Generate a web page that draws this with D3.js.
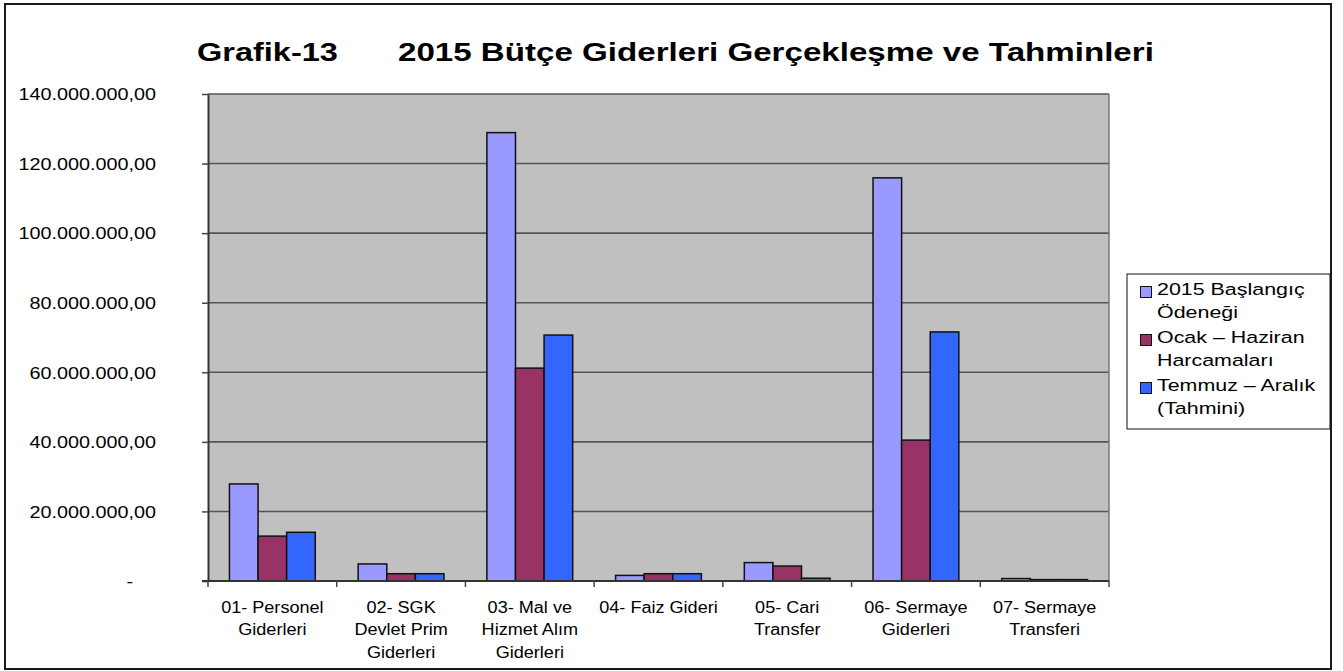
<!DOCTYPE html>
<html>
<head>
<meta charset="utf-8">
<script src="https://cdn.jsdelivr.net/npm/d3@7"></script>
<style>
  body { margin: 0; background: #fff; }
  text { font-family: Arial, "Liberation Sans", sans-serif; fill: #000; }
</style>
</head>
<body>
<div id="chart"></div>
<script>
// categories (line breaks as in the original labels)
var categories = [
  "01- Personel\nGiderleri",
  "02- SGK\nDevlet Prim\nGiderleri",
  "03- Mal ve\nHizmet Alım\nGiderleri",
  "04- Faiz Gideri",
  "05- Cari\nTransfer",
  "06- Sermaye\nGiderleri",
  "07- Sermaye\nTransferi"
];

var seriesNames = [
  "2015 Başlangıç\nÖdeneği",
  "Ocak – Haziran\nHarcamaları",
  "Temmuz – Aralık\n(Tahmini)"
];

// values in TL
var baslangic = [27900000, 4900000, 128900000, 1600000, 5300000, 115900000, 700000];
var ocakHaziran = [12900000, 2100000, 61200000, 2100000, 4300000, 40500000, 400000];
var temmuzAralik = [14000000, 2100000, 70700000, 2100000, 800000, 71600000, 400000];

var yTicks = [0, 20000000, 40000000, 60000000, 80000000, 100000000, 120000000, 140000000];

var titleLeft = "Grafik-13";
var titleMain = "2015 Bütçe Giderleri Gerçekleşme ve Tahminleri";

var colors = ["#9999FF", "#993366", "#3366FF"];

// set the dimensions of the page and the plot area
var W = 1343, H = 671;
var plot = {left: 208, top: 94, right: 1109, bottom: 581};
var sx = 1.2; // text in the original is horizontally stretched

var allSeries = [baslangic, ocakHaziran, temmuzAralik];
var data = categories.map(function(c, i) {
  return {cat: c, values: allSeries.map(function(s, j) { return {series: j, value: s[i]}; })};
});

var trLocale = d3.formatLocale({decimal: ",", thousands: ".", grouping: [3], currency: ["", ""]});
var fmt = trLocale.format(",.2f");

var svg = d3.select("#chart").append("svg")
    .attr("width", W)
    .attr("height", H);

svg.append("rect")
    .attr("width", W).attr("height", H)
    .attr("fill", "#fff");

// outer frame
svg.append("rect")
    .attr("x", 5).attr("y", 4)
    .attr("width", 1326).attr("height", 665)
    .attr("fill", "none")
    .attr("stroke", "#1a1a1a")
    .attr("stroke-width", 2);

// scales
var x0 = d3.scaleBand()
    .domain(categories)
    .range([plot.left, plot.right])
    .paddingInner(0).paddingOuter(0);

var x1 = d3.scaleBand()
    .domain([0, 1, 2])
    .range([0, x0.bandwidth()])
    .paddingInner(0)
    .paddingOuter(0.75);

var y = d3.scaleLinear()
    .domain([0, 140000000])
    .range([plot.bottom, plot.top]);

// plot background
svg.append("rect")
    .attr("x", plot.left).attr("y", plot.top)
    .attr("width", plot.right - plot.left)
    .attr("height", plot.bottom - plot.top)
    .attr("fill", "#C0C0C0");

// gridlines
svg.append("g")
  .selectAll("line")
  .data(yTicks.slice(1))
  .enter().append("line")
    .attr("x1", plot.left).attr("x2", plot.right)
    .attr("y1", function(d) { return y(d); })
    .attr("y2", function(d) { return y(d); })
    .attr("stroke", "#555")
    .attr("stroke-width", 1.6);

// right border of plot
svg.append("line")
    .attr("x1", plot.right).attr("x2", plot.right)
    .attr("y1", plot.top).attr("y2", plot.bottom)
    .attr("stroke", "#777")
    .attr("stroke-width", 1.5);

// bars
var groups = svg.append("g")
  .selectAll("g")
  .data(data)
  .enter().append("g")
    .attr("transform", function(d) { return "translate(" + x0(d.cat) + ",0)"; });

groups.selectAll("rect")
  .data(function(d) { return d.values; })
  .enter().append("rect")
    .attr("x", function(d) { return x1(d.series); })
    .attr("y", function(d) { return y(d.value); })
    .attr("width", x1.bandwidth())
    .attr("height", function(d) { return y(0) - y(d.value); })
    .attr("fill", function(d) { return colors[d.series]; })
    .attr("stroke", "#111")
    .attr("stroke-width", 1.5);

// Y axis
var yAxis = svg.append("g")
    .attr("transform", "translate(" + plot.left + ",0)")
    .call(d3.axisLeft(y).tickValues(yTicks).tickSize(6).tickSizeOuter(0)
      .tickFormat(function(d) { return d === 0 ? "-" : fmt(d); }));

yAxis.select(".domain").attr("stroke", "#333").attr("stroke-width", 2);
yAxis.selectAll(".tick line").attr("stroke", "#444").attr("stroke-width", 1.5);
yAxis.selectAll(".tick text")
    .attr("font-size", 16.5)
    .attr("font-family", "Arial, 'Liberation Sans', sans-serif")
    .attr("fill", "#000")
    .attr("x", function(d) { return (d === 0 ? -75 : -52) / sx; })
    .attr("dy", "0.35em")
    .attr("transform", "scale(" + sx + ",1)");

// X axis line and ticks at category boundaries
svg.append("line")
    .attr("x1", plot.left - 6).attr("x2", plot.right)
    .attr("y1", plot.bottom).attr("y2", plot.bottom)
    .attr("stroke", "#333")
    .attr("stroke-width", 2);

var bounds = categories.map(function(c) { return x0(c); }).concat([plot.right]);
svg.append("g")
  .selectAll("line")
  .data(bounds)
  .enter().append("line")
    .attr("x1", function(d) { return d; })
    .attr("x2", function(d) { return d; })
    .attr("y1", plot.bottom).attr("y2", plot.bottom + 6)
    .attr("stroke", "#444")
    .attr("stroke-width", 1.5);

// category labels
var catLabels = svg.append("g")
  .selectAll("text")
  .data(categories)
  .enter().append("text")
    .attr("transform", function(d) {
      return "translate(" + (x0(d) + x0.bandwidth() / 2) + "," + 613 + ") scale(1.13,1)";
    })
    .attr("text-anchor", "middle")
    .attr("font-size", 16);

catLabels.selectAll("tspan")
  .data(function(d) { return d.split("\n"); })
  .enter().append("tspan")
    .attr("x", 0)
    .attr("y", function(d, i) { return i * 22.5; })
    .text(function(d) { return d; });

// title
svg.append("text")
    .attr("transform", "translate(197,61) scale(1.25,1)")
    .attr("font-size", 26)
    .attr("font-weight", "bold")
    .text(titleLeft);

svg.append("text")
    .attr("transform", "translate(398,61) scale(1.25,1)")
    .attr("font-size", 26.5)
    .attr("font-weight", "bold")
    .text(titleMain);

// legend
var legend = svg.append("g");
legend.append("rect")
    .attr("x", 1127).attr("y", 274)
    .attr("width", 203).attr("height", 155)
    .attr("fill", "#fff")
    .attr("stroke", "#111")
    .attr("stroke-width", 1);

var items = legend.selectAll("g.item")
  .data(seriesNames)
  .enter().append("g")
    .attr("class", "item")
    .attr("transform", function(d, i) { return "translate(1140," + (295 + i * 48) + ")"; });

items.append("rect")
    .attr("x", 0.5).attr("y", -8.5)
    .attr("width", 11).attr("height", 11)
    .attr("fill", function(d, i) { return colors[i]; })
    .attr("stroke", "#111")
    .attr("stroke-width", 1);

var itemText = items.append("text")
    .attr("transform", "translate(17,0) scale(1.26,1)")
    .attr("font-size", 17);

itemText.selectAll("tspan")
  .data(function(d) { return d.split("\n"); })
  .enter().append("tspan")
    .attr("x", 0)
    .attr("y", function(d, i) { return i * 23.5; })
    .text(function(d) { return d; });
</script>
</body>
</html>
